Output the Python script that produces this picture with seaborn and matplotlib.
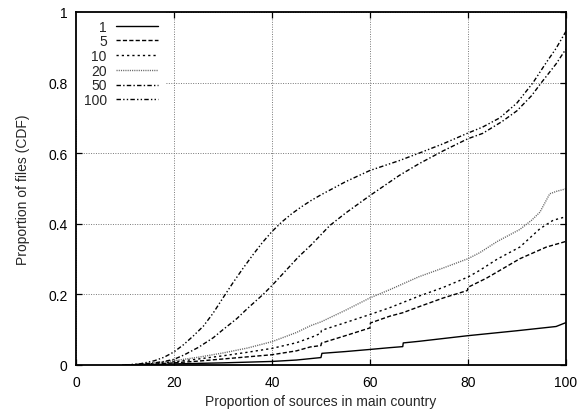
import matplotlib
matplotlib.use("Agg")
import matplotlib.pyplot as plt
import seaborn as sns
import pandas as pd

# CDF of the proportion of a file's sources located in its main country,
# one curve per number-of-sources group.
groups = ["1", "5", "10", "20", "50", "100"]

x_1 = [9.5, 15, 20, 30, 40, 45, 50, 50.2, 55, 60, 64, 66.7, 66.8, 70, 80, 90, 98, 100]
y_1 = [0, 0.001, 0.003, 0.006, 0.01, 0.014, 0.021, 0.033, 0.038, 0.044, 0.049, 0.052,
       0.0625, 0.067, 0.083, 0.097, 0.109, 0.12]

x_5 = [11, 15, 20, 25, 30, 35, 40, 45, 47.8, 50, 50.1, 55, 60, 60.1, 64, 66.7, 70, 75,
       79.9, 80, 83.8, 90.6, 96, 100]
y_5 = [0, 0.002, 0.006, 0.011, 0.017, 0.023, 0.029, 0.04, 0.051, 0.055, 0.062, 0.083,
       0.105, 0.119, 0.138, 0.148, 0.165, 0.19, 0.211, 0.22, 0.246, 0.301, 0.334, 0.35]

x_10 = [11, 15, 20, 25, 30, 35, 40, 45, 48, 50, 50.1, 55, 60, 64, 70, 75, 80, 82.4, 86,
        90.6, 94.7, 97.4, 100]
y_10 = [0, 0.003, 0.009, 0.017, 0.026, 0.036, 0.047, 0.063, 0.078, 0.09, 0.098, 0.12,
        0.143, 0.162, 0.195, 0.22, 0.249, 0.268, 0.3, 0.334, 0.386, 0.41, 0.42]

x_20 = [11, 15, 20, 25, 30, 35, 40, 45, 48, 50, 55, 60, 64, 70, 75, 80, 82.4, 86, 90.6,
        93, 94.7, 96.7, 98.1, 100]
y_20 = [0, 0.004, 0.012, 0.022, 0.034, 0.048, 0.066, 0.092, 0.112, 0.122, 0.155, 0.19,
        0.213, 0.25, 0.275, 0.301, 0.318, 0.35, 0.384, 0.41, 0.433, 0.485, 0.492, 0.499]

x_50 = [10, 13, 16, 18, 20, 22, 25, 28, 30, 32.8, 35, 38.2, 40, 45.4, 48, 51.8, 55, 60,
        62, 66, 70, 75, 80, 83, 87, 90, 93, 95, 98, 100]
y_50 = [0, 0.002, 0.006, 0.01, 0.016, 0.028, 0.05, 0.077, 0.1, 0.131, 0.16, 0.2, 0.225,
        0.306, 0.34, 0.395, 0.43, 0.48, 0.499, 0.537, 0.57, 0.607, 0.641, 0.656, 0.69,
        0.72, 0.763, 0.8, 0.853, 0.895]

x_100 = [10, 13, 16, 18, 20, 22, 24, 26, 28, 30, 32, 34, 36, 38, 40, 42, 44, 46, 48, 50,
         55, 60, 63, 66, 70, 75, 80, 83, 86.5, 90, 93.3, 96, 98, 100]
y_100 = [0, 0.003, 0.012, 0.022, 0.037, 0.058, 0.083, 0.11, 0.147, 0.19, 0.232, 0.272,
         0.31, 0.346, 0.378, 0.405, 0.428, 0.448, 0.466, 0.482, 0.519, 0.551, 0.565,
         0.579, 0.6, 0.627, 0.657, 0.674, 0.7, 0.742, 0.8, 0.857, 0.897, 0.945]

x_ticks = [0, 20, 40, 60, 80, 100]
x_tick_labels = ["0", "20", "40", "60", "80", "100"]
y_ticks = [0, 0.2, 0.4, 0.6, 0.8, 1.0]
y_tick_labels = ["0", "0.2", "0.4", "0.6", "0.8", "1"]

series = {
    "1": (x_1, y_1),
    "5": (x_5, y_5),
    "10": (x_10, y_10),
    "20": (x_20, y_20),
    "50": (x_50, y_50),
    "100": (x_100, y_100),
}

frames = []
for g in groups:
    xs, ys = series[g]
    frames.append(pd.DataFrame({"x": xs, "y": ys, "group": g}))
df = pd.concat(frames, ignore_index=True)

styles = {
    "1": dict(color="black", dashes=None),
    "5": dict(color="black", dashes=(3.0, 1.6)),
    "10": dict(color="black", dashes=(1.6, 2.2)),
    "20": dict(color="#666666", dashes=(0.8, 0.8)),
    "50": dict(color="black", dashes=(3.2, 1.6, 1.0, 1.6)),
    "100": dict(color="black", dashes=(3.2, 1.6, 1.0, 1.6, 1.0, 1.6)),
}

FS = 10

sns.set_theme(style="ticks")
plt.rcParams["font.family"] = ["Liberation Sans", "DejaVu Sans"]
plt.rcParams["font.size"] = FS

fig = plt.figure(figsize=(5.81, 4.14), dpi=100)
ax = fig.add_axes([0.1308, 0.116, 0.974 - 0.1308, 0.9686 - 0.116])

for g in groups:
    sub = df[df["group"] == g]
    st = styles[g]
    kw = {}
    if st["dashes"] is not None:
        kw["linestyle"] = (0, st["dashes"])
    sns.lineplot(data=sub, x="x", y="y", ax=ax, color=st["color"], linewidth=1.0,
                 estimator=None, sort=True, label=g, **kw)

ax.set_xlim(0, 100)
ax.set_ylim(0, 1)
ax.set_xticks(x_ticks)
ax.set_xticklabels(x_tick_labels)
ax.set_yticks(y_ticks)
ax.set_yticklabels(y_tick_labels)

ax.grid(True, color="#777777", linestyle=(0, (1, 1.5)), linewidth=0.7)
for s in ax.spines.values():
    s.set_visible(True)
    s.set_linewidth(1.3)
    s.set_color("black")

ax.tick_params(direction="in", length=4, width=0.9, top=True, right=True,
               labelsize=FS, colors="black")
ax.tick_params(axis="y", pad=6)
ax.tick_params(axis="x", pad=7)

ax.set_xlabel("Proportion of sources in main country", fontsize=FS, labelpad=4)
ax.set_ylabel("Proportion of files (CDF)", fontsize=FS, labelpad=13)

# Opaque key box in the upper-left corner, text to the left of each sample
leg = ax.legend(loc="upper left", frameon=True, markerfirst=False,
                handlelength=3.0, handletextpad=0.7, labelspacing=0.05,
                borderaxespad=0.0, borderpad=0.55, fontsize=FS,
                bbox_to_anchor=(0.0, 1.0), fancybox=False)
frame = leg.get_frame()
frame.set_facecolor("white")
frame.set_edgecolor("none")
frame.set_alpha(1.0)
leg.set_zorder(0.6)

fig.savefig("out.png", dpi=100)
